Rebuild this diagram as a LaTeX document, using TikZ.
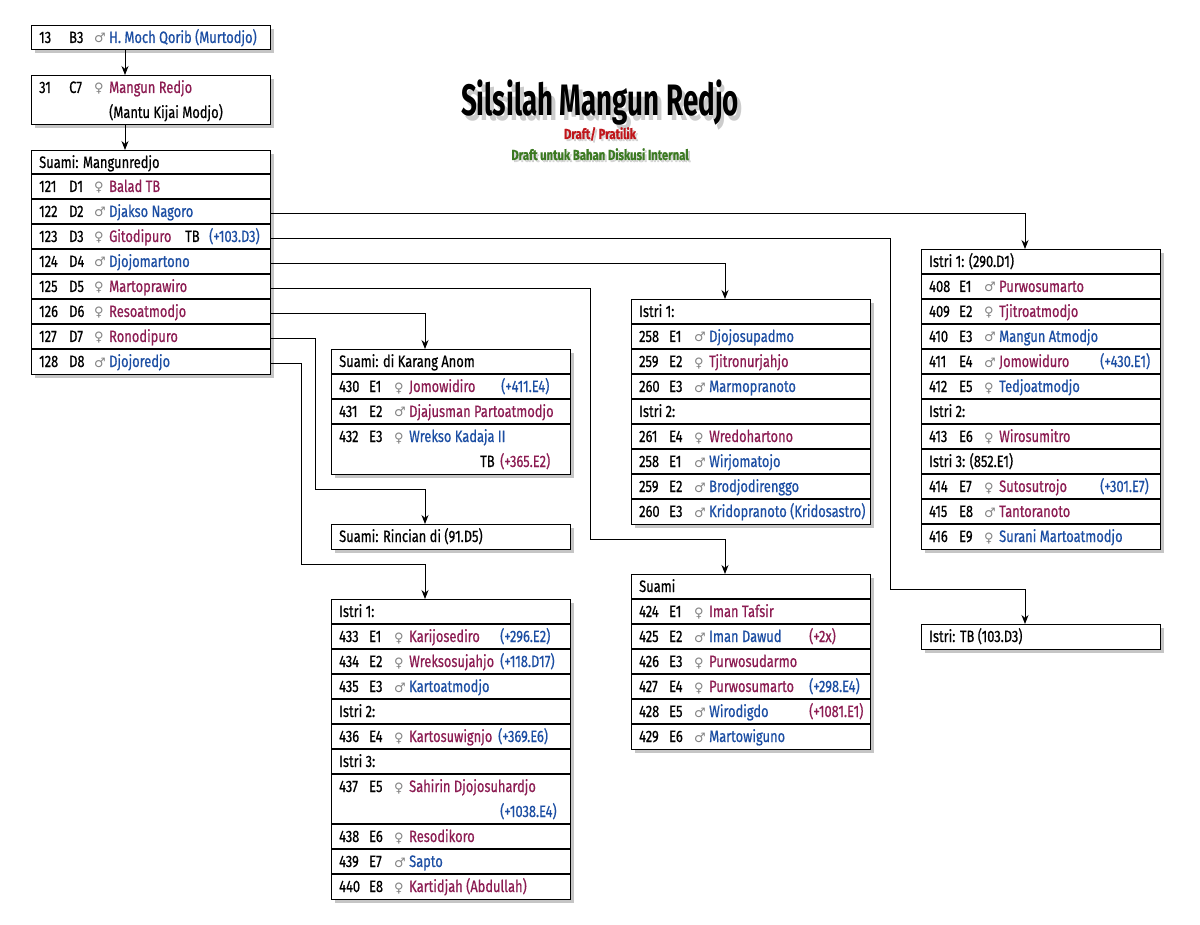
\documentclass[tikz,border=0pt]{standalone}
\usepackage{fontspec}
\setmainfont{Fira Sans}[FakeStretch=0.78,FakeBold=0.6]
\newfontfamily\symf{DejaVu Sans}
\newfontfamily\titlef{Fira Sans}[FakeStretch=0.63]
\usetikzlibrary{arrows.meta,shadows}
\definecolor{pur}{HTML}{8C1C52}
\definecolor{blu}{HTML}{1C4EA3}
\definecolor{symc}{HTML}{858585}
\definecolor{tred}{HTML}{C0161B}
\definecolor{tgrn}{HTML}{3C7A22}
\newcommand\Ml{{\symf\fontsize{13}{13}\selectfont\textcolor{symc}{♂}}}
\newcommand\Fe{{\symf\fontsize{13}{13}\selectfont\textcolor{symc}{♀}}}
\newcommand\pr[7]{%
  \node[txt] (#1n) at (#2+8,#3) {#4};
  \node[txt] (#1c) at (#2+38,#3) {#5};
  \node[txt] (#1s) at (#2+63,#3) {#6};
  \node[txt] (#1p) at (#2+78,#3) {#7};}
\tikzset{
  box/.style={draw, line width=1.1pt, fill=white, anchor=north west, minimum width=239pt, inner sep=0pt,
    drop shadow={shadow xshift=3pt, shadow yshift=-3.5pt, opacity=0.45}},
  sep/.style={line width=1.1pt},
  txt/.style={anchor=base west, inner sep=0pt, font=\fontsize{16.5}{18}\selectfont},
  conn/.style={line width=0.9pt, -{Stealth[length=9pt,width=7pt]}},
  ttl/.style={inner sep=0pt, anchor=base, font=\titlef\bfseries\fontsize{44}{46}\selectfont},
  sub/.style={inner sep=0pt, anchor=base, font=\bfseries\fontsize{14.5}{16}\selectfont},
}
\begin{document}
\begin{tikzpicture}[x=1pt,y=-1pt]
\useasboundingbox (0,0) rectangle (1200,925);
\fill[white] (0,0) rectangle (1200,925);

% title (with soft shadow)
\node[ttl,text=black,opacity=0.2] (tsh) at (604,121) {Silsilah Mangun Redjo};
\node[ttl] (title) at (600,116) {Silsilah Mangun Redjo};
\node[sub,text=black,opacity=0.15] (s1sh) at (602,141) {Draft/ Pratilik};
\node[sub,text=tred] (s1) at (600,139) {Draft/ Pratilik};
\node[sub,text=black,opacity=0.15] (s2sh) at (602,162) {Draft untuk Bahan Diskusi Internal};
\node[sub,text=tgrn] (s2) at (600,160) {Draft untuk Bahan Diskusi Internal};

% boxes
\node[box, minimum height=24pt] (A) at (31,25) {};
\node[box, minimum height=49pt] (B) at (31,75) {};
\node[box, minimum height=224pt] (C) at (31,150) {};
\node[box, minimum height=125pt] (D) at (331,349) {};
\node[box, minimum height=25pt] (E) at (331,524) {};
\node[box, minimum height=300pt] (F) at (331,599) {};
\node[box, minimum height=225pt] (G) at (631,299) {};
\node[box, minimum height=175pt] (H) at (631,574) {};
\node[box, minimum height=300pt] (I) at (921,249) {};
\node[box, minimum height=25pt] (J) at (921,624) {};

% separators
\foreach \y in {174,199,224,249,274,299,324,349} \draw[sep] (31,\y) -- ++(239,0);
\foreach \y in {374,399,424} \draw[sep] (331,\y) -- ++(239,0);
\foreach \y in {624,649,674,699,724,749,774,824,849,874} \draw[sep] (331,\y) -- ++(239,0);
\foreach \y in {324,349,374,399,424,449,474,499} \draw[sep] (631,\y) -- ++(239,0);
\foreach \y in {599,624,649,674,699,724} \draw[sep] (631,\y) -- ++(239,0);
\foreach \y in {274,299,324,349,374,399,424,449,474,499,524} \draw[sep] (921,\y) -- ++(239,0);

% box A, B
\pr{a1}{31}{43}{13}{B3}{\Ml}{\textcolor{blu}{H. Moch Qorib (Murtodjo)}}
\pr{b1}{31}{93}{31}{C7}{\Fe}{\textcolor{pur}{Mangun Redjo}}
\node[txt] (b2) at (109,118) {(Mantu Kijai Modjo)};

% box C
\node[txt] (ch) at (39,168) {Suami: Mangunredjo};
\pr{c1}{31}{192}{121}{D1}{\Fe}{\textcolor{pur}{Balad TB}}
\pr{c2}{31}{217}{122}{D2}{\Ml}{\textcolor{blu}{Djakso Nagoro}}
\pr{c3}{31}{242}{123}{D3}{\Fe}{\textcolor{pur}{Gitodipuro}}
\node[txt] (c3t) at (185,242) {TB};
\node[txt,text=blu] (c3x) at (209,242) {(+103.D3)};
\pr{c4}{31}{267}{124}{D4}{\Ml}{\textcolor{blu}{Djojomartono}}
\pr{c5}{31}{292}{125}{D5}{\Fe}{\textcolor{pur}{Martoprawiro}}
\pr{c6}{31}{317}{126}{D6}{\Fe}{\textcolor{pur}{Resoatmodjo}}
\pr{c7}{31}{342}{127}{D7}{\Fe}{\textcolor{pur}{Ronodipuro}}
\pr{c8}{31}{367}{128}{D8}{\Ml}{\textcolor{blu}{Djojoredjo}}

% box D
\node[txt] (dh) at (339,367) {Suami: di Karang Anom};
\pr{d1}{331}{392}{430}{E1}{\Fe}{\textcolor{pur}{Jomowidiro}}
\node[txt,text=blu] (d1x) at (501,392) {(+411.E4)};
\pr{d2}{331}{417}{431}{E2}{\Ml}{\textcolor{pur}{Djajusman Partoatmodjo}}
\pr{d3}{331}{442}{432}{E3}{\Fe}{\textcolor{blu}{Wrekso Kadaja II}}
\node[txt] (d3t) at (480,467) {TB};
\node[txt,text=pur] (d3x) at (500,467) {(+365.E2)};

% box E
\node[txt] (eh) at (339,542) {Suami: Rincian di (91.D5)};

% box F
\node[txt] (fh1) at (339,617) {Istri 1:};
\pr{f1}{331}{642}{433}{E1}{\Fe}{\textcolor{pur}{Karijosediro}}
\node[txt,text=blu] (f1x) at (500,642) {(+296.E2)};
\pr{f2}{331}{667}{434}{E2}{\Fe}{\textcolor{pur}{Wreksosujahjo}}
\node[txt,text=blu] (f2x) at (500,667) {(+118.D17)};
\pr{f3}{331}{692}{435}{E3}{\Ml}{\textcolor{blu}{Kartoatmodjo}}
\node[txt] (fh2) at (339,717) {Istri 2:};
\pr{f4}{331}{742}{436}{E4}{\Fe}{\textcolor{pur}{Kartosuwignjo}}
\node[txt,text=blu] (f4x) at (498,742) {(+369.E6)};
\node[txt] (fh3) at (339,767) {Istri 3:};
\pr{f5}{331}{792}{437}{E5}{\Fe}{\textcolor{pur}{Sahirin Djojosuhardjo}}
\node[txt,text=blu] (f5x) at (500,817) {(+1038.E4)};
\pr{f6}{331}{842}{438}{E6}{\Fe}{\textcolor{pur}{Resodikoro}}
\pr{f7}{331}{867}{439}{E7}{\Ml}{\textcolor{blu}{Sapto}}
\pr{f8}{331}{892}{440}{E8}{\Fe}{\textcolor{pur}{Kartidjah (Abdullah)}}

% box G
\node[txt] (gh1) at (639,317) {Istri 1:};
\pr{g1}{631}{342}{258}{E1}{\Ml}{\textcolor{blu}{Djojosupadmo}}
\pr{g2}{631}{367}{259}{E2}{\Fe}{\textcolor{pur}{Tjitronurjahjo}}
\pr{g3}{631}{392}{260}{E3}{\Ml}{\textcolor{blu}{Marmopranoto}}
\node[txt] (gh2) at (639,417) {Istri 2:};
\pr{g4}{631}{442}{261}{E4}{\Fe}{\textcolor{pur}{Wredohartono}}
\pr{g5}{631}{467}{258}{E1}{\Ml}{\textcolor{blu}{Wirjomatojo}}
\pr{g6}{631}{492}{259}{E2}{\Ml}{\textcolor{blu}{Brodjodirenggo}}
\pr{g7}{631}{517}{260}{E3}{\Ml}{\textcolor{blu}{Kridopranoto (Kridosastro)}}

% box H
\node[txt] (hh) at (639,592) {Suami};
\pr{h1}{631}{617}{424}{E1}{\Fe}{\textcolor{pur}{Iman Tafsir}}
\pr{h2}{631}{642}{425}{E2}{\Ml}{\textcolor{blu}{Iman Dawud}}
\node[txt,text=pur] (h2x) at (809,642) {(+2x)};
\pr{h3}{631}{667}{426}{E3}{\Fe}{\textcolor{pur}{Purwosudarmo}}
\pr{h4}{631}{692}{427}{E4}{\Fe}{\textcolor{pur}{Purwosumarto}}
\node[txt,text=blu] (h4x) at (809,692) {(+298.E4)};
\pr{h5}{631}{717}{428}{E5}{\Ml}{\textcolor{blu}{Wirodigdo}}
\node[txt,text=pur] (h5x) at (809,717) {(+1081.E1)};
\pr{h6}{631}{742}{429}{E6}{\Ml}{\textcolor{blu}{Martowiguno}}

% box I
\node[txt] (ih1) at (929,267) {Istri 1: (290.D1)};
\pr{i1}{921}{292}{408}{E1}{\Ml}{\textcolor{pur}{Purwosumarto}}
\pr{i2}{921}{317}{409}{E2}{\Fe}{\textcolor{pur}{Tjitroatmodjo}}
\pr{i3}{921}{342}{410}{E3}{\Ml}{\textcolor{blu}{Mangun Atmodjo}}
\pr{i4}{921}{367}{411}{E4}{\Ml}{\textcolor{pur}{Jomowiduro}}
\node[txt,text=blu] (i4x) at (1100,367) {(+430.E1)};
\pr{i5}{921}{392}{412}{E5}{\Fe}{\textcolor{blu}{Tedjoatmodjo}}
\node[txt] (ih2) at (929,417) {Istri 2:};
\pr{i6}{921}{442}{413}{E6}{\Fe}{\textcolor{pur}{Wirosumitro}}
\node[txt] (ih3) at (929,467) {Istri 3: (852.E1)};
\pr{i7}{921}{492}{414}{E7}{\Fe}{\textcolor{pur}{Sutosutrojo}}
\node[txt,text=blu] (i7x) at (1100,492) {(+301.E7)};
\pr{i8}{921}{517}{415}{E8}{\Ml}{\textcolor{pur}{Tantoranoto}}
\pr{i9}{921}{542}{416}{E9}{\Fe}{\textcolor{blu}{Surani Martoatmodjo}}

% box J
\node[txt] (jh) at (929,642) {Istri: TB (103.D3)};

% connector coordinates
\coordinate (ax) at (125,0);
\coordinate (rD2) at (270,213);
\coordinate (rD3) at (270,238);
\coordinate (rD4) at (270,263);
\coordinate (rD5) at (270,288);
\coordinate (rD6) at (270,313);
\coordinate (rD7) at (270,338);
\coordinate (rD8) at (270,363);
\coordinate (Iin) at (1025,249);
\coordinate (Jin) at (1025,624);
\coordinate (Gin) at (725,299);
\coordinate (Hin) at (725,574);
\coordinate (Din) at (425,349);
\coordinate (Ein) at (425,524);
\coordinate (Fin) at (425,599);
\coordinate (t3) at (890,589);
\coordinate (t5) at (590,539);
\coordinate (t7) at (315,489);
\coordinate (t8) at (301,564);

% connectors
\draw[conn] (A.south -| ax) -- (B.north -| ax);
\draw[conn] (B.south -| ax) -- (C.north -| ax);
\draw[conn] (rD2) -| (Iin);
\draw[conn] (rD3) -| (t3) -| (Jin);
\draw[conn] (rD4) -| (Gin);
\draw[conn] (rD5) -| (t5) -| (Hin);
\draw[conn] (rD6) -| (Din);
\draw[conn] (rD7) -| (t7) -| (Ein);
\draw[conn] (rD8) -| (t8) -| (Fin);
\end{tikzpicture}
\end{document}
